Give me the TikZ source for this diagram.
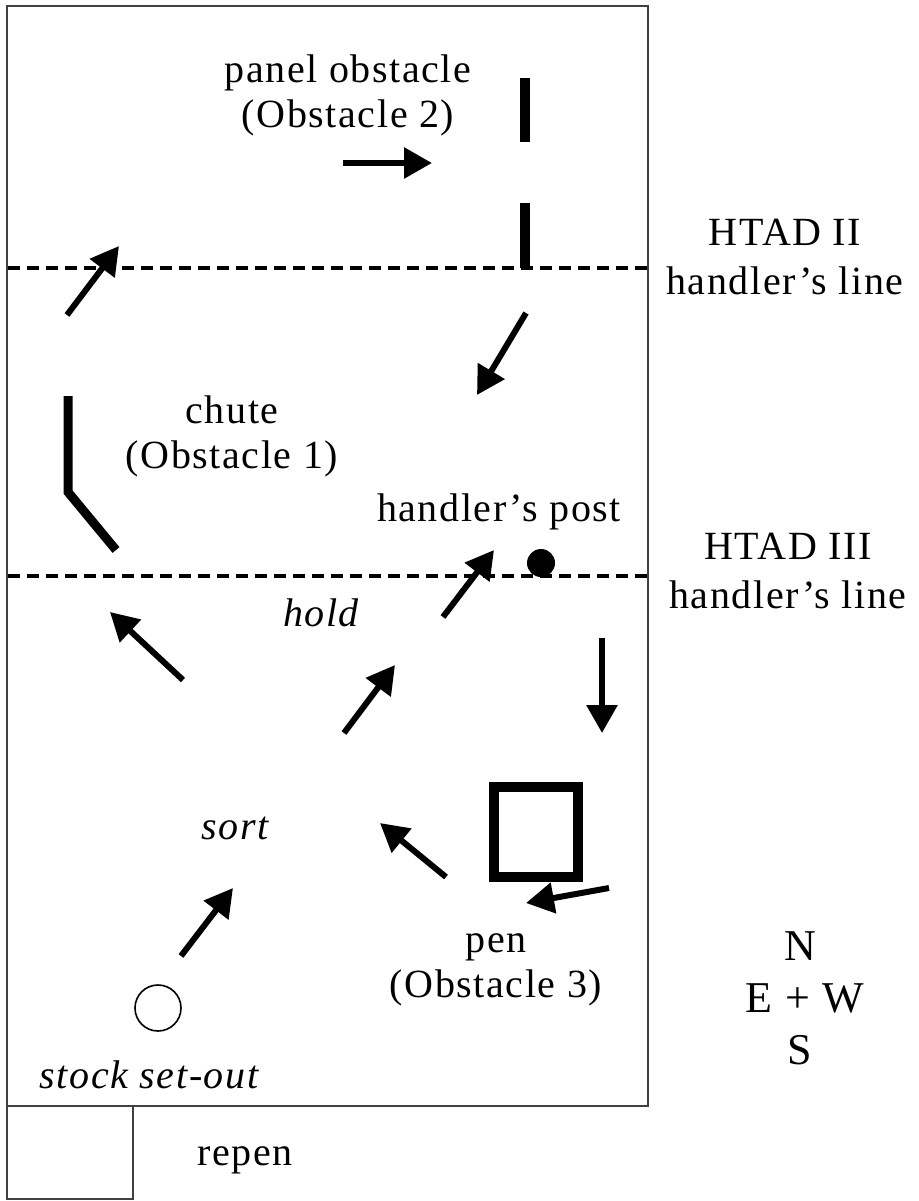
\documentclass[tikz,border=0pt]{standalone}
\usepackage{fontspec}
\setmainfont{Liberation Serif}[LetterSpace=4]
\usetikzlibrary{arrows.meta}

\begin{document}
\begin{tikzpicture}[x=0.5pt,y=-0.5pt,
		move/.style={-{Triangle[length=14pt,width=15pt]}, line width=3pt},
		hline/.style={dash pattern=on 6pt off 3.5pt, line width=2pt},
		fence/.style={line width=4.5pt},
		lbl/.style={font=\fontsize{20}{22.5}\selectfont, align=center, inner sep=0pt},
		area/.style={font=\fontsize{20}{22.5}\selectfont\itshape, inner sep=0pt},
		compass/.style={font=\fontsize{22}{24}\selectfont, inner sep=0pt}]
		\useasboundingbox (0,0) rectangle (919,1201);

		% arena and repen
		\draw[line width=1pt, black!75] (7,6) rectangle (648,1106);
		\draw[line width=1pt, black!75] (7,1106) rectangle (133,1199);
		\node[lbl] (repen) at (245,1160) {repen};

		% handler's lines
		\draw[hline] (8,268) -- (648,268);
		\draw[hline] (8,576) -- (648,576);
		\node[lbl, align=center] (htad2) at (785,257) {HTAD II\\[2pt]handler's line};
		\node[lbl, align=center] (htad3) at (788,571) {HTAD III\\[2pt]handler's line};

		% obstacles
		\draw[line width=5pt] (525,78) -- (525,142);
		\draw[line width=5pt] (525,203) -- (525,268);
		\node[lbl] (panel) at (348,95) {panel obstacle\\(Obstacle 2)};

		\draw[fence, line join=miter] (68,396) -- (68,492) -- (116,550);
		\node[lbl] (chute) at (232,436) {chute\\(Obstacle 1)};

		\node[draw, line width=5pt, minimum width=42pt, minimum height=45pt, inner sep=0pt] (pen) at (536,832) {};
		\node[lbl] (penlbl) at (496,970) {pen\\(Obstacle 3)};

		\node[circle, fill, minimum size=14pt, inner sep=0pt] (post) at (541,563) {};
		\node[lbl] (postlbl) at (499,512) {handler's post};

		\node[circle, draw, line width=0.8pt, minimum size=23pt, inner sep=0pt] (setout) at (158,1008) {};
		\node[area] (setoutlbl) at (149,1075) {stock set-out};
		\node[area] (hold) at (321,613) {hold};
		\node[area] (sort) at (235,828) {sort};

		% course
		\draw[move] (181,956) -- (233,888);
		\draw[move] (344,733) -- (395,665);
		\draw[move] (443,617) -- (494,550);
		\draw[move] (526,313) -- (477,395);
		\draw[move] (602,638) -- (602,733);
		\draw[move] (609,888) -- (526,903);
		\draw[move] (446,877) -- (380,823);
		\draw[move] (183,680) -- (110,612);
		\draw[move] (67,315) -- (119,246);
		\draw[move] (343,163) -- (432,163);

		% compass
		\node[compass] (north) at (800,946) {N};
		\node[compass] (ew) at (805,998) {E + W};
		\node[compass] (south) at (800,1050) {S};
\end{tikzpicture}
\end{document}
